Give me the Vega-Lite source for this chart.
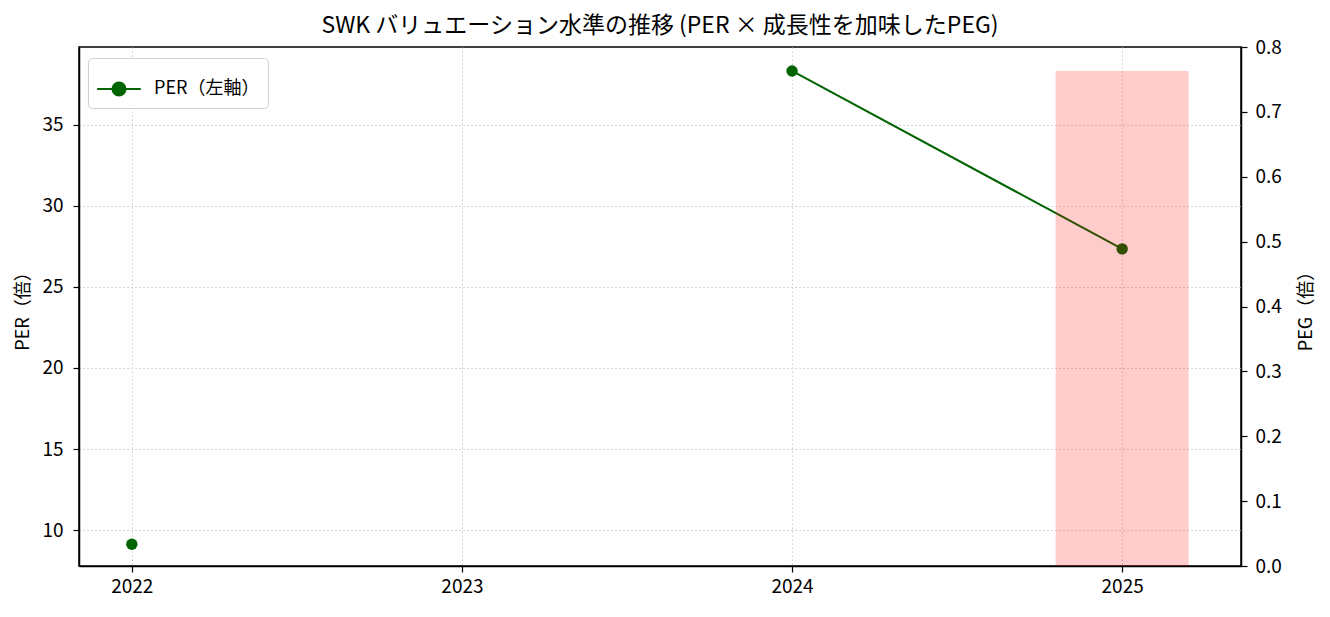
{
  "$schema": "https://vega.github.io/schema/vega-lite/v6.json",
  "width": 1162,
  "height": 519,
  "autosize": "none",
  "padding": {"left": 79, "top": 47, "right": 89, "bottom": 51},
  "background": "white",
  "config": {
    "font": "Noto Sans CJK JP",
    "view": {"stroke": "black", "strokeWidth": 1.5},
    "axis": {
      "labelFont": "Noto Sans CJK JP",
      "titleFont": "Noto Sans CJK JP",
      "labelFontSize": 19,
      "titleFontSize": 18,
      "titleFontWeight": "normal",
      "labelColor": "black",
      "titleColor": "black",
      "domainColor": "black",
      "domainWidth": 1.5,
      "tickColor": "black",
      "tickSize": 6,
      "tickWidth": 1.2,
      "gridColor": "#cccccc",
      "gridDash": [1.5, 2.5],
      "gridWidth": 1
    },
    "legend": {
      "labelFont": "Noto Sans CJK JP",
      "labelFontSize": 18
    }
  },
  "title": {
    "text": "SWK バリュエーション水準の推移 (PER × 成長性を加味したPEG)",
    "fontSize": 23,
    "fontWeight": "normal",
    "color": "black",
    "offset": 0
  },
  "data": {
    "values": [
      {"year": 2022, "PER": 9.12, "PEG": null},
      {"year": 2023, "PER": null, "PEG": null},
      {"year": 2024, "PER": 38.33, "PEG": null},
      {"year": 2025, "PER": 27.35, "PEG": 0.763}
    ]
  },
  "layer": [
    {
      "mark": {
        "type": "line",
        "strokeWidth": 2,
        "point": {"filled": true, "size": 130}
      },
      "encoding": {
        "x": {
          "field": "year",
          "type": "quantitative",
          "scale": {"domain": [2021.84, 2025.36], "nice": false, "zero": false, "padding": 0},
          "axis": {
            "title": null,
            "values": [2022, 2023, 2024, 2025],
            "format": "d",
            "grid": true,
            "labelPadding": 5
          }
        },
        "y": {
          "field": "PER",
          "type": "quantitative",
          "scale": {"domain": [7.78, 39.81], "nice": false, "zero": false},
          "axis": {
            "title": "PER（倍）",
            "values": [10, 15, 20, 25, 30, 35],
            "grid": true,
            "labelPadding": 10,
            "titlePadding": 9
          }
        },
        "color": {
          "datum": "PER（左軸）",
          "type": "nominal",
          "scale": {"range": ["#006400"]},
          "legend": {
            "title": null,
            "orient": "none",
            "legendX": 9,
            "legendY": 11,
            "padding": 8,
            "fillColor": "white",
            "strokeColor": "#d0d0d0",
            "cornerRadius": 4,
            "symbolType": "M-1,0H1M-0.3,0A0.3,0.3,0,1,0,0.3,0A0.3,0.3,0,1,0,-0.3,0Z",
            "symbolSize": 1900,
            "symbolStrokeWidth": 2,
            "symbolFillColor": "#006400",
            "symbolStrokeColor": "#006400",
            "labelOffset": 12
          }
        }
      }
    },
    {
      "mark": {"type": "bar", "color": "red", "opacity": 0.2, "width": 133},
      "encoding": {
        "x": {"field": "year", "type": "quantitative"},
        "y": {
          "field": "PEG",
          "type": "quantitative",
          "scale": {"domain": [0, 0.8], "nice": false},
          "axis": {
            "orient": "right",
            "title": "PEG（倍）",
            "titleAngle": 270,
            "titleBaseline": "top",
            "values": [0, 0.1, 0.2, 0.3, 0.4, 0.5, 0.6, 0.7, 0.8],
            "format": ".1f",
            "grid": false,
            "labelPadding": 8,
            "titlePadding": 16
          }
        }
      }
    }
  ],
  "resolve": {"scale": {"y": "independent"}}
}
